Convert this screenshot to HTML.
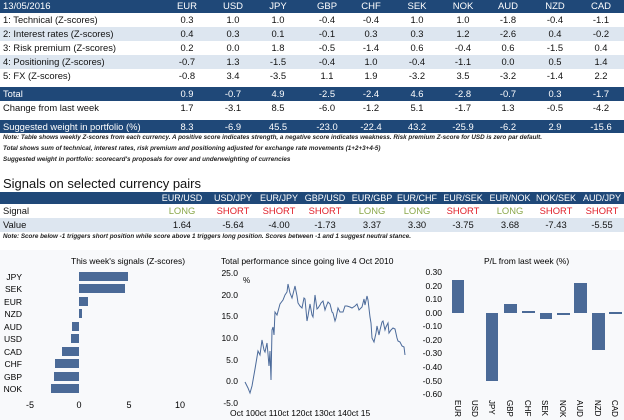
<!DOCTYPE html>
<html><head><meta charset="utf-8"><style>
*{margin:0;padding:0;box-sizing:border-box}
body{width:624px;height:420px;background:#fff;font-family:"Liberation Sans",sans-serif;font-size:9.4px;color:#111;position:relative;overflow:hidden}
.r{position:absolute;left:0;width:624px;height:14px;line-height:14px}
.d{background:#1f4878;color:#fff}
.l{background:#dde6f0}
.r b{font-weight:normal;position:absolute;left:3px}
.r i{font-style:normal;position:absolute;width:46px;text-align:center}
.n{position:absolute;left:3px;font-size:6.3px;font-style:italic;font-weight:bold;color:#222}
.g{color:#8aa84a}.s{color:#e0202a}
</style></head><body>
<div class="r d" style="top:0;height:13px;line-height:13px;font-size:9.5px"><b>13/05/2016</b><i style="left:164px">EUR</i><i style="left:210px">USD</i><i style="left:255px">JPY</i><i style="left:304px">GBP</i><i style="left:348px">CHF</i><i style="left:394px">SEK</i><i style="left:440px">NOK</i><i style="left:485px">AUD</i><i style="left:532px">NZD</i><i style="left:578px">CAD</i></div>
<div class="r" style="top:13px"><b>1: Technical (Z-scores)</b><i style="left:164px">0.3</i><i style="left:210px">1.0</i><i style="left:255px">1.0</i><i style="left:304px">-0.4</i><i style="left:348px">-0.4</i><i style="left:394px">1.0</i><i style="left:440px">1.0</i><i style="left:485px">-1.8</i><i style="left:532px">-0.4</i><i style="left:578px">-1.1</i></div>
<div class="r l" style="top:27px"><b>2: Interest rates (Z-scores)</b><i style="left:164px">0.4</i><i style="left:210px">0.3</i><i style="left:255px">0.1</i><i style="left:304px">-0.1</i><i style="left:348px">0.3</i><i style="left:394px">0.3</i><i style="left:440px">1.2</i><i style="left:485px">-2.6</i><i style="left:532px">0.4</i><i style="left:578px">-0.2</i></div>
<div class="r" style="top:41px"><b>3: Risk premium (Z-scores)</b><i style="left:164px">0.2</i><i style="left:210px">0.0</i><i style="left:255px">1.8</i><i style="left:304px">-0.5</i><i style="left:348px">-1.4</i><i style="left:394px">0.6</i><i style="left:440px">-0.4</i><i style="left:485px">0.6</i><i style="left:532px">-1.5</i><i style="left:578px">0.4</i></div>
<div class="r l" style="top:55px"><b>4: Positioning (Z-scores)</b><i style="left:164px">-0.7</i><i style="left:210px">1.3</i><i style="left:255px">-1.5</i><i style="left:304px">-0.4</i><i style="left:348px">1.0</i><i style="left:394px">-0.4</i><i style="left:440px">-1.1</i><i style="left:485px">0.0</i><i style="left:532px">0.5</i><i style="left:578px">1.4</i></div>
<div class="r" style="top:69px"><b>5: FX (Z-scores)</b><i style="left:164px">-0.8</i><i style="left:210px">3.4</i><i style="left:255px">-3.5</i><i style="left:304px">1.1</i><i style="left:348px">1.9</i><i style="left:394px">-3.2</i><i style="left:440px">3.5</i><i style="left:485px">-3.2</i><i style="left:532px">-1.4</i><i style="left:578px">2.2</i></div>
<div class="r d" style="top:87px"><b>Total</b><i style="left:164px">0.9</i><i style="left:210px">-0.7</i><i style="left:255px">4.9</i><i style="left:304px">-2.5</i><i style="left:348px">-2.4</i><i style="left:394px">4.6</i><i style="left:440px">-2.8</i><i style="left:485px">-0.7</i><i style="left:532px">0.3</i><i style="left:578px">-1.7</i></div>
<div class="r" style="top:101px"><b>Change from last week</b><i style="left:164px">1.7</i><i style="left:210px">-3.1</i><i style="left:255px">8.5</i><i style="left:304px">-6.0</i><i style="left:348px">-1.2</i><i style="left:394px">5.1</i><i style="left:440px">-1.7</i><i style="left:485px">1.3</i><i style="left:532px">-0.5</i><i style="left:578px">-4.2</i></div>
<div class="r d" style="top:120px;height:13px;line-height:13px"><b>Suggested weight in portfolio (%)</b><i style="left:164px">8.3</i><i style="left:210px">-6.9</i><i style="left:255px">45.5</i><i style="left:304px">-23.0</i><i style="left:348px">-22.4</i><i style="left:394px">43.2</i><i style="left:440px">-25.9</i><i style="left:485px">-6.2</i><i style="left:532px">2.9</i><i style="left:578px">-15.6</i></div>
<div class="n" style="top:134px">Note: Table shows weekly Z-scores from each currency. A positive score indicates strength, a negative score indicates weakness. Risk premium Z-score for USD is zero par default.</div>
<div class="n" style="top:145px">Total shows sum of technical, interest rates, risk premium and positioning adjusted for exchange rate movements (1+2+3+4-5)</div>
<div class="n" style="top:156px">Suggested weight in portfolio: scorecard's proposals for over and underweighting of currencies</div>
<div style="position:absolute;left:3px;top:176px;font-size:13px">Signals on selected currency pairs</div>
<div class="r d" style="top:192px;height:12px;line-height:12px;font-size:9px"><i style="left:159px">EUR/USD</i><i style="left:210px">USD/JPY</i><i style="left:256px">EUR/JPY</i><i style="left:302px">GBP/USD</i><i style="left:349px">EUR/GBP</i><i style="left:394px">EUR/CHF</i><i style="left:440px">EUR/SEK</i><i style="left:487px">EUR/NOK</i><i style="left:533px">NOK/SEK</i><i style="left:579px">AUD/JPY</i></div>
<div class="r" style="top:204px"><b>Signal</b><i class="g" style="left:159px">LONG</i><i class="s" style="left:210px">SHORT</i><i class="s" style="left:256px">SHORT</i><i class="s" style="left:302px">SHORT</i><i class="g" style="left:349px">LONG</i><i class="g" style="left:394px">LONG</i><i class="s" style="left:440px">SHORT</i><i class="g" style="left:487px">LONG</i><i class="s" style="left:533px">SHORT</i><i class="s" style="left:579px">SHORT</i></div>
<div class="r l" style="top:218px"><b>Value</b><i style="left:159px">1.64</i><i style="left:210px">-5.64</i><i style="left:256px">-4.00</i><i style="left:302px">-1.73</i><i style="left:349px">3.37</i><i style="left:394px">3.30</i><i style="left:440px">-3.75</i><i style="left:487px">3.68</i><i style="left:533px">-7.43</i><i style="left:579px">-5.55</i></div>
<div class="n" style="top:233px">Note: Score below -1 triggers short position while score above 1 triggers long position. Scores between -1 and 1 suggest neutral stance.</div>

<svg width="624" height="420" style="position:absolute;left:0;top:0" font-family="Liberation Sans, sans-serif" font-size="9">
<rect x="0" y="250" width="624" height="170" fill="#f8f9fb"/>
<text x="71" y="264" font-size="8.5">This week's signals (Z-scores)</text>
<g font-size="8.5" text-anchor="end">
<text x="22" y="280">JPY</text><text x="22" y="292">SEK</text><text x="22" y="305">EUR</text><text x="22" y="317">NZD</text><text x="22" y="330">AUD</text><text x="22" y="342">USD</text><text x="22" y="355">CAD</text><text x="22" y="367">CHF</text><text x="22" y="380">GBP</text><text x="22" y="392">NOK</text>
</g>
<g fill="#4b6a97">
<rect x="79" y="272" width="49" height="9"/><rect x="79" y="284" width="46" height="9"/><rect x="79" y="297" width="9" height="9"/><rect x="79" y="309" width="3" height="9"/><rect x="72" y="322" width="7" height="9"/><rect x="71" y="334" width="8" height="9"/><rect x="62" y="347" width="17" height="9"/><rect x="55" y="359" width="24" height="9"/><rect x="54" y="372" width="25" height="9"/><rect x="51" y="384" width="28" height="9"/>
</g>
<g font-size="9" text-anchor="middle"><text x="30" y="408">-5</text><text x="79" y="408">0</text><text x="129" y="408">5</text><text x="180" y="408">10</text></g>

<text x="221" y="264" font-size="8.5">Total performance since going live 4 Oct 2010</text>
<text x="243" y="283" font-size="8">%</text>
<g text-anchor="end" font-size="8.5">
<text x="238" y="276">25.0</text><text x="238" y="298">20.0</text><text x="238" y="319">15.0</text><text x="238" y="341">10.0</text><text x="238" y="363">5.0</text><text x="238" y="384">0.0</text><text x="238" y="406">-5.0</text>
<text x="442" y="275">0.30</text><text x="442" y="289">0.20</text><text x="442" y="302">0.10</text><text x="442" y="316">0.00</text><text x="442" y="329">-0.10</text><text x="442" y="343">-0.20</text><text x="442" y="356">-0.30</text><text x="442" y="370">-0.40</text><text x="442" y="384">-0.50</text><text x="442" y="397">-0.60</text>
</g>
<text x="230" y="416" font-size="8.5">Oct 100ct 110ct 120ct 130ct 140ct 15</text>
<polyline fill="none" stroke="#4b6a9a" stroke-width="1" points="245,382 248,388 250,393 252,386 255,369 258,351 260,355 262,340 264,350 265,352 267,343 268,354 269,366 270,351 271,380 272,330 273,327 274,335 275,312 277,315 280,304 283,300 285,295 287,292 288,284 290,293 292,298 294,290 295,286 297,296 298,303 300,306 302,308 304,298 305,299 307,321 308,316 310,304 312,315 313,317 315,295 317,309 318,308 320,305 321,303 323,301 325,310 326,307 328,302 330,304 332,312 333,313 335,321 336,318 338,308 340,312 343,312 345,306 347,306 350,307 352,308 355,306 357,304 359,310 362,307 364,299 365,305 367,296 368,300 370,317 371,323 372,338 374,342 376,333 377,326 379,335 380,330 382,322 383,321 385,330 386,327 388,323 389,333 391,330 393,328 395,329 397,338 398,341 400,342 402,346 404,347 405,355"/>

<text x="484" y="264" font-size="8.5">P/L from last week (%)</text>
<g fill="#4b6a97">
<rect x="452" y="280" width="12" height="33"/><rect x="486" y="313" width="12" height="68"/><rect x="504" y="304" width="13" height="9"/><rect x="522" y="311" width="13" height="2"/><rect x="540" y="313" width="12" height="6"/><rect x="557" y="313" width="13" height="2"/><rect x="574" y="283" width="13" height="30"/><rect x="592" y="313" width="13" height="37"/><rect x="609" y="312" width="13" height="2"/>
</g>
<g font-size="8">
<text transform="translate(455,400) rotate(90)">EUR</text><text transform="translate(472,400) rotate(90)">USD</text><text transform="translate(489,400) rotate(90)">JPY</text><text transform="translate(507,400) rotate(90)">GBP</text><text transform="translate(525,400) rotate(90)">CHF</text><text transform="translate(542,400) rotate(90)">SEK</text><text transform="translate(560,400) rotate(90)">NOK</text><text transform="translate(577,400) rotate(90)">AUD</text><text transform="translate(595,400) rotate(90)">NZD</text><text transform="translate(612,400) rotate(90)">CAD</text>
</g>
</svg>
</body></html>
